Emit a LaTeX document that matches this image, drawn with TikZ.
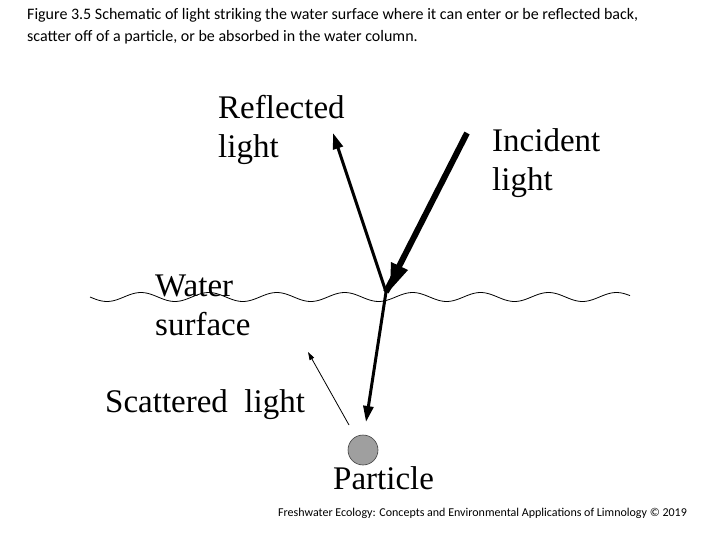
\documentclass[tikz,border=0pt]{standalone}
\usepackage{fontspec}
\setmainfont{Liberation Serif}
\newfontfamily\capfont{Carlito}
\usetikzlibrary{arrows.meta}
\begin{document}
\begin{tikzpicture}[x=1pt,y=-1pt,
  lbl/.style={anchor=north west,font=\fontsize{33}{39}\selectfont,align=left,inner sep=0},
  ray/.style={line width=3pt,-{Triangle[length=16pt,width=10pt]}}]
\useasboundingbox[fill=white] (0,0) rectangle (720,540);
\node[anchor=north west,inner sep=0,font=\capfont\fontsize{16}{22}\selectfont,align=left] (cap) at (27,8)
 {Figure 3.5 Schematic of light striking the water surface where it can enter or be reflected back,\\scatter off of a particle, or be absorbed in the water column.};
\draw[line width=0.8pt,smooth,domain=90:630,samples=120] plot (\x,{297+4.5*sin((\x-90)*5.3)});
\coordinate (hit) at (386,292);
\coordinate (src) at (467,133);
\coordinate (refl) at (333,133);
\coordinate (down) at (366,422);
\draw[line width=6pt] (src) -- (hit);
\fill (390,290) -- (391,262) -- (408,270) -- cycle;
\draw[ray] (hit) -- (refl);
\draw[ray] (hit) -- (down);
\node[circle,fill=gray!75,draw=gray!50!black,line width=0.6pt,minimum size=30pt,inner sep=0] (part) at (363,450) {};
\coordinate (sc1) at (349,425);
\coordinate (sc2) at (308,352);
\draw[line width=0.8pt,-{Triangle[length=8pt,width=5pt]}] (sc1) -- (sc2);
\node[lbl] (r) at (218,95) {Reflected\\light};
\node[lbl] (i) at (492,128) {Incident\\light};
\node[lbl] (w) at (155,275) {Water\\surface};
\node[lbl] (s) at (105,389) {Scattered\ \ light};
\node[lbl] (p) at (333,466) {Particle};
\node[anchor=north west,inner sep=0,font=\capfont\fontsize{12}{14}\selectfont] (f) at (278,508) {Freshwater Ecology: Concepts and Environmental Applications of Limnology © 2019};
\end{tikzpicture}
\end{document}
